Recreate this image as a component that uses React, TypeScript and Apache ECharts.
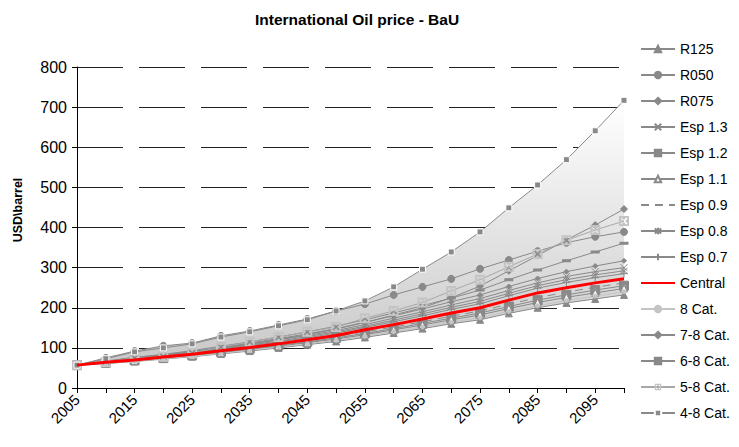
import React, { useEffect, useRef } from "react";
import * as echarts from "echarts";

const years = ["2005","2010","2015","2020","2025","2030","2035","2040","2045","2050","2055","2060","2065","2070","2075","2080","2085","2090","2095","2100"];

const r125 = [57,61,66,72,78,85,92,100,108,116,126,137,148,160,170,186,200,212,222,232];
const r050 = [57,75,92,105,112,130,142,157,172,192,209,232,252,272,297,319,341,362,377,389];
const r075 = [57,66,77,82,90,100,110,121,133,147,163,182,200,225,254,292,330,369,406,446];
const esp13 = [57,66,73,81,89,99,109,120,131,143,158,174,190,207,223,243,262,278,290,300];
const esp12 = [57,63,69,75,82,90,98,106,115,125,136,148,161,174,187,203,219,232,244,255];
const esp11 = [57,63,68,74,81,88,96,104,113,122,133,145,157,170,182,198,213,226,237,248];
const esp09 = [57,64,70,77,84,92,100,109,118,128,140,152,165,179,192,209,225,239,251,262];
const esp08 = [57,65,72,80,88,97,107,117,128,140,154,169,185,201,216,236,255,270,282,292];
const esp07 = [57,65,72,79,87,96,105,115,125,137,151,165,180,196,210,230,249,263,275,285];
const central = [57,64,70,77,84,93,101,110,120,131,145,158,172,187,200,219,237,250,262,272];
const cat8 = [57,62,67,73,79,86,94,102,110,119,129,140,152,164,175,191,205,218,229,240];
const cat78 = [57,66,74,82,91,101,112,123,135,148,164,180,197,215,232,253,273,290,304,317];
const cat68 = [57,67,76,84,93,104,115,127,140,154,170,187,205,224,244,270,294,317,339,361];
const cat58 = [57,65,75,78,87,102,115,127,140,152,174,192,213,242,270,302,334,368,394,416];
const cat48 = [57,73,90,100,110,127,140,155,170,192,217,252,296,339,389,449,506,569,641,717];

const yTicks = [0,100,200,300,400,500,600,700,800];

const GRAY = "#898989";
const LIGHT = "#c4c4c4";

const SYM_X = "path://M0,0L10,10M10,0L0,10";
const SYM_PLUS = "path://M5,0L5,10M0,5L10,5";
const SYM_AST = "path://M5,0L5,10M1,1L9,9M9,1L1,9";
const SYM_SQPLUS = "path://M0,0L10,0L10,10L0,10ZM4.3,2L4.3,4.3L2,4.3L2,5.7L4.3,5.7L4.3,8L5.7,8L5.7,5.7L8,5.7L8,4.3L5.7,4.3L5.7,2Z";
const SYM_SQX = "path://M0,0L10,0L10,10L0,10ZM3.9,5L1.5,7.4L2.6,8.5L5,6.1L7.4,8.5L8.5,7.4L6.1,5L8.5,2.6L7.4,1.5L5,3.9L2.6,1.5L1.5,2.6Z";

export default function App() {
  const ref = useRef<HTMLDivElement>(null);
  useEffect(() => {
    if (!ref.current) return;
    const chart = echarts.init(ref.current, undefined, { renderer: "svg" });
    const all = [r125, r050, r075, esp13, esp12, esp11, esp09, esp08, esp07, central, cat8, cat78, cat68, cat58, cat48];
    const lower = years.map((_, i) => Math.min(...all.map((s) => s[i])));
    const upper = years.map((_, i) => Math.max(...all.map((s) => s[i])));
    const band = upper.map((u, i) => u - lower[i]);

    const mk = (name: string, data: number[], symbol: string, size: any, opts: any = {}) => ({
      name,
      type: "line",
      data,
      symbol,
      symbolSize: size,
      showSymbol: symbol !== "none",
      z: 3,
      lineStyle: { color: opts.lineColor || GRAY, width: opts.width || 1, type: opts.lineType || "solid" },
      itemStyle: {
        color: opts.fill || GRAY,
        borderColor: opts.border || opts.fill || GRAY,
        borderWidth: opts.borderWidth ?? 1,
      },
      emphasis: { disabled: true },
    });

    const series: any[] = [
      {
        name: "_base",
        type: "line",
        data: lower,
        stack: "band",
        symbol: "none",
        lineStyle: { opacity: 0 },
        silent: true,
        z: 1,
      },
      {
        name: "_band",
        type: "line",
        data: band,
        stack: "band",
        symbol: "none",
        lineStyle: { opacity: 0 },
        areaStyle: {
          color: new echarts.graphic.LinearGradient(0, 0, 0, 1, [
            { offset: 0, color: "#ffffff" },
            { offset: 1, color: "#c8c8c8" },
          ]),
          opacity: 1,
        },
        silent: true,
        z: 1,
      },
      mk("R125", r125, "triangle", 7),
      mk("R050", r050, "circle", 7),
      mk("R075", r075, "diamond", 7),
      mk("Esp 1.3", esp13, SYM_X, 7, { fill: "transparent", border: GRAY }),
      mk("Esp 1.2", esp12, SYM_SQPLUS, 9),
      mk("Esp 1.1", esp11, "triangle", 7, { fill: "#ffffff", border: GRAY }),
      mk("Esp 0.9", esp09, "none", 0, { lineType: [8, 6] }),
      mk("Esp 0.8", esp08, SYM_AST, 7, { fill: "transparent", border: GRAY }),
      mk("Esp 0.7", esp07, SYM_PLUS, 8, { fill: "transparent", border: GRAY }),
      { ...mk("Central", central, "none", 0, { lineColor: "#ff0000", fill: "#ff0000", width: 3 }), z: 4 },
      mk("8 Cat.", cat8, "circle", 4, { lineColor: LIGHT, fill: LIGHT }),
      mk("7-8 Cat.", cat78, "diamond", 5),
      mk("6-8 Cat.", cat68, "rect", [6, 2]),
      mk("5-8 Cat.", cat58, SYM_SQX, 10, { lineColor: "#a8a8a8", fill: LIGHT, borderWidth: 0 }),
      mk("4-8 Cat.", cat48, "rect", 6, { border: "#ffffff" }),
    ];

    const hidden = { color: "transparent", borderColor: "transparent", borderWidth: 0 };
    const legendData: any[] = [
      "R125","R050","R075","Esp 1.3","Esp 1.2","Esp 1.1",
      { name: "Esp 0.9", itemStyle: hidden },
      "Esp 0.8","Esp 0.7",
      { name: "Central", itemStyle: hidden },
      "8 Cat.","7-8 Cat.","6-8 Cat.","5-8 Cat.","4-8 Cat.",
    ];

    chart.setOption({
      animation: false,
      textStyle: { fontFamily: "Liberation Sans" },
      title: {
        text: "International Oil price - BaU",
        left: 250,
        top: 6,
        textStyle: { fontSize: 15.5, fontWeight: "bold", color: "#000", fontFamily: "Liberation Sans" },
      },
      legend: {
        orient: "vertical",
        left: 635,
        top: 37,
        padding: 5,
        itemWidth: 34,
        itemHeight: 8,
        itemGap: 12,
        data: legendData,
        textStyle: { fontSize: 14, lineHeight: 14, color: "#000", fontFamily: "Liberation Sans" },
      },
      grid: { left: 77, right: 115, top: 67, bottom: 59, containLabel: false },
      xAxis: {
        type: "category",
        data: years,
        boundaryGap: false,
        axisLine: { lineStyle: { color: "#000", width: 1 } },
        axisTick: { interval: 0, length: 5, lineStyle: { color: "#000" } },
        axisLabel: { interval: 1, rotate: 45, fontSize: 15, color: "#000", margin: 9, fontFamily: "Liberation Sans" },
        splitLine: { show: false },
      },
      yAxis: {
        type: "value",
        min: yTicks[0],
        max: yTicks[yTicks.length - 1],
        interval: 100,
        axisLine: { show: true, lineStyle: { color: "#000", width: 1 } },
        axisTick: { show: true, length: 5, lineStyle: { color: "#000" } },
        axisLabel: { fontSize: 16, color: "#000", margin: 10, fontFamily: "Liberation Sans" },
        splitLine: { show: true, lineStyle: { color: "#222", width: 1, type: [46, 16] } },
      },
      graphic: [
        {
          type: "text",
          x: 18,
          y: 210,
          rotation: Math.PI / 2,
          style: {
            text: "USD\\barrel",
            fontSize: 12.5,
            fontWeight: "bold",
            fill: "#000",
            align: "center",
            verticalAlign: "middle",
            fontFamily: "Liberation Sans",
          },
        },
      ],
      series,
    });
    return () => chart.dispose();
  }, []);
  return <div ref={ref} style={{ width: 739, height: 447, position: "absolute", left: 0, top: 0 }} />;
}
